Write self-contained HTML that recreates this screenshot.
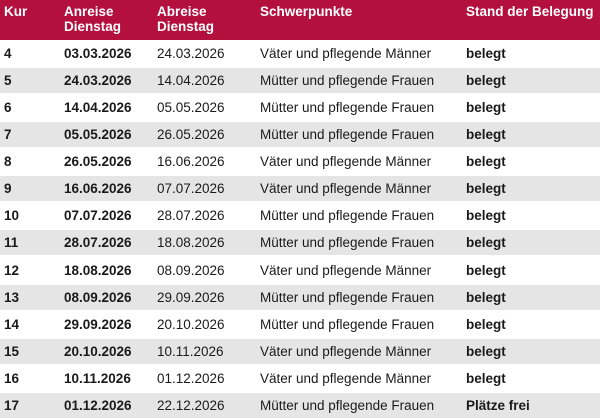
<!DOCTYPE html>
<html><head><meta charset="utf-8"><style>
body{margin:0;width:600px;height:419px;overflow:hidden;background:#fff;font-family:"Liberation Sans",sans-serif;font-size:13.5px;color:#1a1a1a}
.h{position:absolute;left:0;top:0;width:600px;height:40px;background:#b3103d;color:#fff;font-weight:bold}
.h div{position:absolute;top:4px;line-height:15px}
.r{position:absolute;left:0;width:600px;height:27px;line-height:27px}
.r.g{background:#e5e5e5;top:0}
.r span{position:absolute;top:0}
.b{font-weight:bold}
</style></head><body>
<div class="h"><div style="left:4px">Kur</div><div style="left:64px">Anreise<br>Dienstag</div><div style="left:157px">Abreise<br>Dienstag</div><div style="left:260px">Schwerpunkte</div><div style="left:466px">Stand der Belegung</div></div>
<div id="t"></div>
<script>
var d=[["4","03.03.2026","24.03.2026","V"],["5","24.03.2026","14.04.2026","M"],["6","14.04.2026","05.05.2026","M"],["7","05.05.2026","26.05.2026","M"],["8","26.05.2026","16.06.2026","V"],["9","16.06.2026","07.07.2026","V"],["10","07.07.2026","28.07.2026","M"],["11","28.07.2026","18.08.2026","M"],["12","18.08.2026","08.09.2026","V"],["13","08.09.2026","29.09.2026","M"],["14","29.09.2026","20.10.2026","M"],["15","20.10.2026","10.11.2026","V"],["16","10.11.2026","01.12.2026","V"],["17","01.12.2026","22.12.2026","M"]];
var h="";d.forEach(function(r,i){var top=40+i*27.07;h+='<div class="r'+(i%2?' g':'')+'" style="top:'+(top+(i%2?1:0))+'px;height:'+(i%2?25:27)+'px;line-height:'+(i%2?25:27)+'px"><span class="b" style="left:4px">'+r[0]+'</span><span class="b" style="left:64px">'+r[1]+'</span><span style="left:157px">'+r[2]+'</span><span style="left:260px">'+(r[3]=="V"?"Väter und pflegende Männer":"Mütter und pflegende Frauen")+'</span><span class="b" style="left:466px">'+(i==13?"Plätze frei":"belegt")+'</span></div>';});
document.getElementById("t").innerHTML=h;
</script>
</body></html>
